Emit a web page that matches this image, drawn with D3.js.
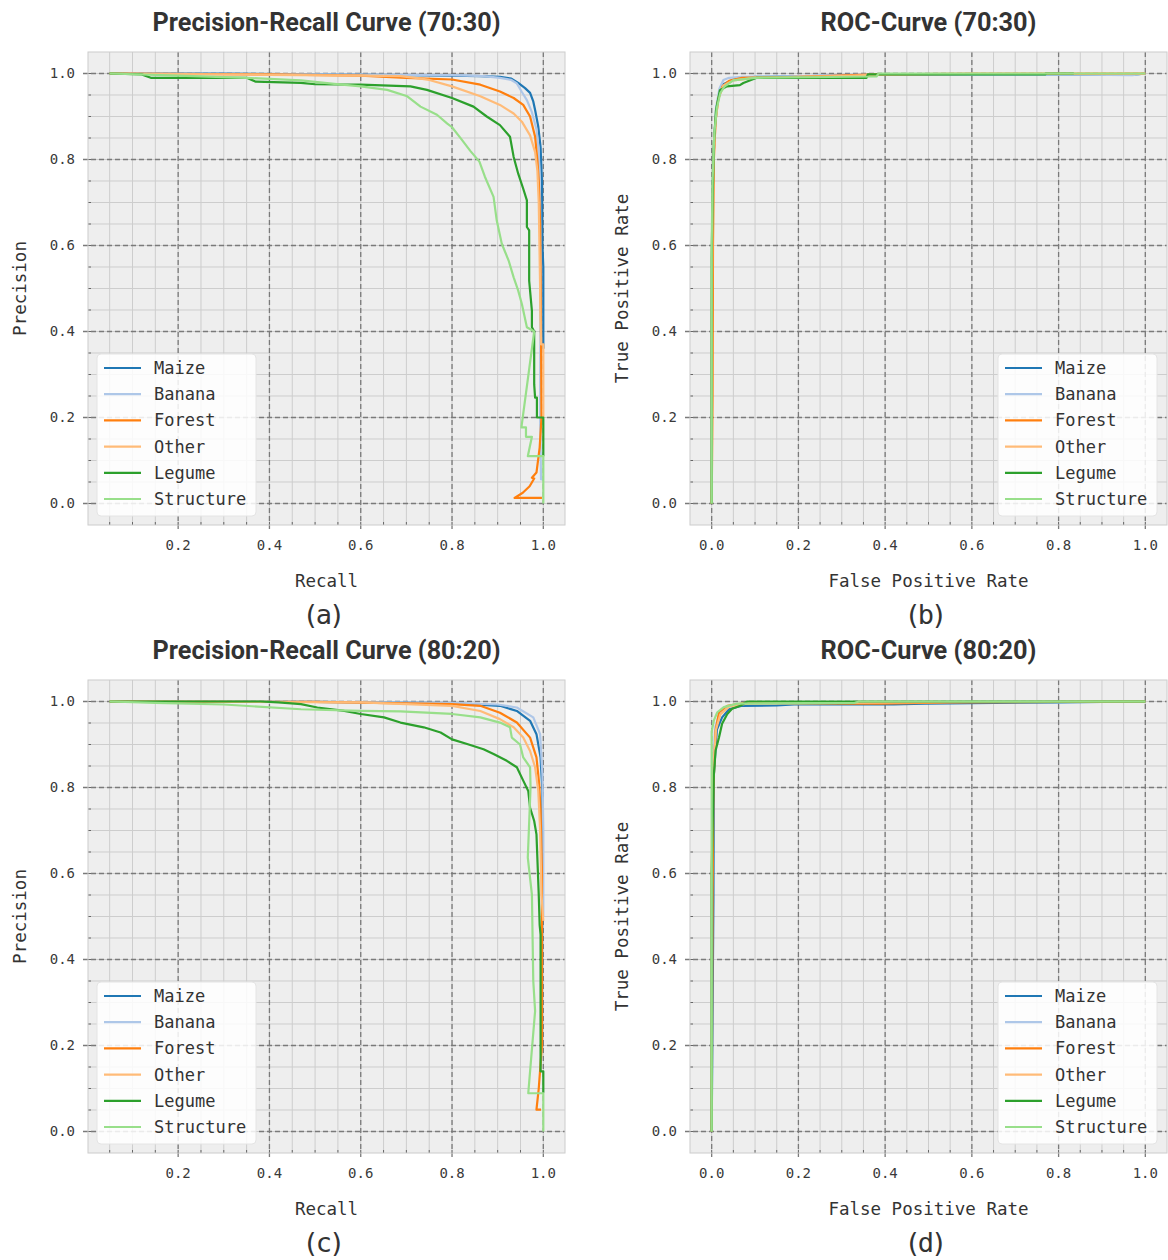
<!DOCTYPE html>
<html>
<head>
<meta charset="utf-8">
<script src="https://cdn.jsdelivr.net/npm/d3@7"></script>
<style>
  body { margin: 0; background: #fff; }
  svg text { fill: #333; }
</style>
</head>
<body>
<svg id="chart" width="1168" height="1260"></svg>
<script>
// class names + tab20 colours
const classes = ["Maize", "Banana", "Forest", "Other", "Legume", "Structure"];
const colors = ["#1f77b4", "#aec7e8", "#ff7f0e", "#ffbb78", "#2ca02c", "#98df8a"];

const majorTicks = [0, 0.2, 0.4, 0.6, 0.8, 1.0];
const tickLabels = ["0.0", "0.2", "0.4", "0.6", "0.8", "1.0"];

// ---- Precision-Recall 70:30  [recall, precision]
const pr7030Maize = [[0.05,1.0],[0.3,1.0],[0.5,0.998],[0.7,0.996],[0.8,0.995],[0.862,0.994],[0.905,0.992],[0.93,0.988],[0.945,0.978],[0.96,0.966],[0.971,0.955],[0.978,0.935],[0.982,0.915],[0.989,0.876],[0.994,0.829],[0.997,0.75],[0.998,0.6],[1.0,0.55],[1.0,0.36]];
const pr7030Banana = [[0.05,1.0],[0.5,0.998],[0.7,0.997],[0.8,0.996],[0.87,0.994],[0.905,0.99],[0.93,0.985],[0.942,0.977],[0.953,0.957],[0.964,0.938],[0.975,0.91],[0.985,0.87],[0.99,0.82],[0.993,0.7],[0.994,0.5],[0.993,0.2],[0.995,0.056],[1.0,0.056]];
const pr7030Forest = [[0.05,1.0],[0.4,0.998],[0.6,0.995],[0.7,0.99],[0.8,0.986],[0.862,0.974],[0.905,0.958],[0.935,0.943],[0.956,0.927],[0.971,0.9],[0.982,0.853],[0.987,0.798],[0.99,0.75],[0.993,0.65],[0.995,0.4],[0.996,0.2],[0.992,0.13],[0.985,0.072],[0.975,0.06],[0.98,0.058],[0.97,0.04],[0.955,0.025],[0.937,0.013],[0.997,0.013]];
const pr7030Other = [[0.05,1.0],[0.4,0.997],[0.6,0.995],[0.687,0.994],[0.72,0.99],[0.75,0.985],[0.8,0.97],[0.862,0.947],[0.905,0.927],[0.935,0.907],[0.953,0.888],[0.971,0.856],[0.982,0.817],[0.987,0.774],[0.99,0.7],[0.993,0.5],[0.995,0.37],[1.0,0.37],[1.0,0.2]];
const pr7030Legume = [[0.05,1.0],[0.12,0.998],[0.14,0.99],[0.35,0.99],[0.37,0.981],[0.469,0.978],[0.5,0.975],[0.6,0.974],[0.709,0.97],[0.745,0.962],[0.8,0.943],[0.847,0.923],[0.876,0.9],[0.905,0.88],[0.927,0.853],[0.935,0.806],[0.945,0.767],[0.956,0.732],[0.964,0.705],[0.964,0.643],[0.969,0.635],[0.969,0.518],[0.975,0.448],[0.975,0.41],[0.98,0.4],[0.98,0.277],[0.982,0.246],[0.986,0.246],[0.986,0.2],[1.0,0.2],[1.0,0.11]];
const pr7030Structure = [[0.05,1.0],[0.2,0.995],[0.35,0.99],[0.469,0.984],[0.542,0.976],[0.6,0.97],[0.658,0.962],[0.702,0.947],[0.731,0.923],[0.767,0.904],[0.789,0.884],[0.8,0.875],[0.82,0.848],[0.84,0.82],[0.86,0.795],[0.872,0.76],[0.891,0.713],[0.898,0.658],[0.909,0.604],[0.924,0.565],[0.935,0.526],[0.945,0.495],[0.953,0.464],[0.964,0.41],[0.98,0.4],[0.952,0.177],[0.962,0.177],[0.962,0.155],[0.975,0.155],[0.966,0.11],[1.0,0.11],[1.0,0.0]];

// ---- Precision-Recall 80:20
const pr8020Maize = [[0.05,1.0],[0.5,0.999],[0.8,0.996],[0.905,0.99],[0.942,0.978],[0.971,0.955],[0.985,0.924],[0.994,0.87],[0.998,0.792],[0.998,0.6],[0.996,0.26]];
const pr8020Banana = [[0.05,1.0],[0.5,0.999],[0.8,0.997],[0.9,0.993],[0.942,0.986],[0.978,0.963],[0.993,0.924],[0.998,0.831],[1.0,0.7],[1.0,0.5]];
const pr8020Forest = [[0.05,1.0],[0.5,0.999],[0.8,0.994],[0.862,0.99],[0.905,0.974],[0.942,0.951],[0.971,0.916],[0.985,0.87],[0.991,0.808],[0.994,0.746],[0.997,0.6],[0.997,0.2],[0.99,0.1],[0.985,0.051],[0.995,0.051]];
const pr8020Other = [[0.05,1.0],[0.6,0.998],[0.8,0.99],[0.862,0.978],[0.905,0.959],[0.935,0.94],[0.956,0.916],[0.971,0.885],[0.982,0.847],[0.989,0.792],[0.993,0.7],[0.996,0.55],[1.0,0.49]];
const pr8020Legume = [[0.05,1.0],[0.38,1.0],[0.42,0.998],[0.469,0.994],[0.505,0.986],[0.564,0.978],[0.6,0.971],[0.651,0.963],[0.687,0.951],[0.738,0.94],[0.775,0.928],[0.8,0.912],[0.833,0.901],[0.869,0.889],[0.891,0.878],[0.92,0.862],[0.942,0.847],[0.956,0.816],[0.967,0.792],[0.971,0.753],[0.98,0.722],[0.985,0.691],[0.99,0.55],[0.992,0.48],[0.994,0.458],[0.994,0.14],[1.0,0.14],[1.0,0.09]];
const pr8020Structure = [[0.05,1.0],[0.15,0.997],[0.3,0.993],[0.469,0.982],[0.6,0.978],[0.687,0.977],[0.8,0.971],[0.862,0.963],[0.905,0.951],[0.927,0.94],[0.931,0.916],[0.949,0.9],[0.956,0.87],[0.971,0.847],[0.972,0.8],[0.966,0.637],[0.975,0.551],[0.978,0.35],[0.982,0.28],[0.967,0.089],[1.0,0.089],[1.0,0.0]];

// ---- ROC 70:30  [fpr, tpr]
const roc7030Maize = [[0,0],[0,0.3],[0.002,0.7],[0.004,0.8],[0.008,0.88],[0.012,0.925],[0.019,0.958],[0.027,0.975],[0.05,0.986],[0.1,0.992],[0.3,0.995],[0.4,0.998],[0.8,0.998],[0.97,0.997],[1.0,1.0]];
const roc7030Banana = [[0,0],[0,0.4],[0.003,0.75],[0.006,0.85],[0.01,0.92],[0.018,0.965],[0.027,0.985],[0.04,0.99],[0.07,0.992],[0.15,0.993],[0.38,0.998],[0.81,0.998],[0.97,0.996],[1.0,1.0]];
const roc7030Forest = [[0,0],[0.002,0.25],[0.003,0.6],[0.005,0.8],[0.009,0.89],[0.015,0.94],[0.025,0.97],[0.04,0.983],[0.07,0.99],[0.2,0.992],[0.38,0.998],[0.6,0.999],[1.0,1.0]];
const roc7030Other = [[0,0],[0,0.4],[0.002,0.7],[0.005,0.82],[0.01,0.9],[0.016,0.945],[0.027,0.972],[0.05,0.984],[0.1,0.99],[0.3,0.994],[0.4,0.998],[0.6,1.0],[1.0,1.0]];
const roc7030Legume = [[0,0],[0,0.57],[0.002,0.7],[0.005,0.837],[0.01,0.915],[0.019,0.961],[0.035,0.97],[0.065,0.973],[0.073,0.978],[0.104,0.99],[0.357,0.99],[0.36,0.998],[0.77,0.998],[0.77,1.0],[0.835,1.0]];
const roc7030Structure = [[0,0],[0,0.6],[0.002,0.75],[0.006,0.86],[0.012,0.92],[0.02,0.955],[0.03,0.97],[0.05,0.984],[0.1,0.99],[0.38,0.993],[0.385,1.0],[1.0,1.0]];

// ---- ROC 80:20
const roc8020Maize = [[0,0],[0.003,0.41],[0.004,0.54],[0.005,0.83],[0.012,0.935],[0.024,0.963],[0.04,0.982],[0.07,0.99],[0.15,0.991],[0.19,0.993],[0.42,0.993],[0.49,0.995],[0.8,0.998],[1.0,1.0]];
const roc8020Banana = [[0,0],[0,0.5],[0.003,0.85],[0.008,0.94],[0.018,0.972],[0.035,0.988],[0.07,0.995],[0.3,0.997],[0.6,0.999],[1.0,1.0]];
const roc8020Forest = [[0,0],[0.002,0.55],[0.004,0.8],[0.009,0.932],[0.017,0.975],[0.036,0.99],[0.08,0.997],[0.33,0.995],[0.39,0.995],[0.55,0.998],[1.0,1.0]];
const roc8020Other = [[0,0],[0,0.6],[0.001,0.72],[0.004,0.85],[0.01,0.935],[0.02,0.97],[0.04,0.988],[0.08,0.995],[0.3,0.997],[0.6,0.999],[1.0,1.0]];
const roc8020Legume = [[0,0],[0,0.6],[0.003,0.75],[0.005,0.83],[0.009,0.886],[0.017,0.917],[0.024,0.948],[0.036,0.971],[0.047,0.983],[0.066,0.99],[0.082,1.0],[0.322,1.0],[1.0,1.0]];
const roc8020Structure = [[0,0],[0,0.93],[0.005,0.956],[0.013,0.975],[0.028,0.987],[0.059,0.995],[0.33,0.997],[0.34,1.0],[1.0,1.0]];

const panels = [
    { x: 88,  y: 52,  kind: "pr",  title: "Precision-Recall Curve (70:30)", tw: 348, tag: "(a)",
      series: [pr7030Maize, pr7030Banana, pr7030Forest, pr7030Other, pr7030Legume, pr7030Structure] },
    { x: 690, y: 52,  kind: "roc", title: "ROC-Curve (70:30)", tw: 216, tag: "(b)",
      series: [roc7030Maize, roc7030Banana, roc7030Forest, roc7030Other, roc7030Legume, roc7030Structure] },
    { x: 88,  y: 680, kind: "pr",  title: "Precision-Recall Curve (80:20)", tw: 348, tag: "(c)",
      series: [pr8020Maize, pr8020Banana, pr8020Forest, pr8020Other, pr8020Legume, pr8020Structure] },
    { x: 690, y: 680, kind: "roc", title: "ROC-Curve (80:20)", tw: 216, tag: "(d)",
      series: [roc8020Maize, roc8020Banana, roc8020Forest, roc8020Other, roc8020Legume, roc8020Structure] }
];

const pw = 477, ph = 473;
const mono = "'DejaVu Sans Mono', monospace";
const svg = d3.select("#chart");
const minor = d3.range(0, 21).map(i => i * 0.05);

panels.forEach((p, pi) => {
    const xDom = p.kind === "pr" ? [0.0025, 1.0475] : [-0.05, 1.05];
    const x = d3.scaleLinear().domain(xDom).range([p.x, p.x + pw]);
    const y = d3.scaleLinear().domain([-0.05, 1.05]).range([p.y + ph, p.y]);
    const inX = v => v >= xDom[0] && v <= xDom[1];
    const g = svg.append("g");

    // background
    g.append("rect").attr("x", p.x).attr("y", p.y).attr("width", pw).attr("height", ph)
        .attr("fill", "#eeeeee");

    // minor grid
    g.selectAll(".mgx").data(minor.filter(inX)).enter().append("line")
        .attr("x1", d => x(d)).attr("x2", d => x(d)).attr("y1", p.y).attr("y2", p.y + ph)
        .attr("stroke", "#cdcdcd").attr("stroke-width", 1);
    g.selectAll(".mgy").data(minor).enter().append("line")
        .attr("y1", d => y(d)).attr("y2", d => y(d)).attr("x1", p.x).attr("x2", p.x + pw)
        .attr("stroke", "#cdcdcd").attr("stroke-width", 1);

    // major grid, dashed
    g.selectAll(".gx").data(majorTicks.filter(inX)).enter().append("line")
        .attr("x1", d => x(d)).attr("x2", d => x(d)).attr("y1", p.y).attr("y2", p.y + ph + 5)
        .attr("stroke", "#7a7a7a").attr("stroke-width", 1.3).attr("stroke-dasharray", "5,3");
    g.selectAll(".gy").data(majorTicks).enter().append("line")
        .attr("y1", d => y(d)).attr("y2", d => y(d)).attr("x1", p.x - 5).attr("x2", p.x + pw)
        .attr("stroke", "#7a7a7a").attr("stroke-width", 1.3).attr("stroke-dasharray", "5,3");

    // minor tick marks
    g.selectAll(".mtx").data(minor.filter(inX)).enter().append("line")
        .attr("x1", d => x(d)).attr("x2", d => x(d)).attr("y1", p.y + ph - 3).attr("y2", p.y + ph)
        .attr("stroke", "#666");
    g.selectAll(".mty").data(minor).enter().append("line")
        .attr("y1", d => y(d)).attr("y2", d => y(d)).attr("x1", p.x).attr("x2", p.x + 3)
        .attr("stroke", "#666");

    g.append("rect").attr("x", p.x).attr("y", p.y).attr("width", pw).attr("height", ph)
        .attr("fill", "none").attr("stroke", "#cccccc");

    // tick labels
    majorTicks.forEach((t, i) => {
        if (inX(t)) {
            g.append("text").attr("x", x(t)).attr("y", p.y + ph + 25)
                .attr("text-anchor", "middle").style("font", `14px ${mono}`).style("fill", "#3a3a3a")
                .text(tickLabels[i]);
        }
        g.append("text").attr("x", p.x - 13).attr("y", y(t)).attr("dy", "0.35em")
            .attr("text-anchor", "end").style("font", `14px ${mono}`).style("fill", "#3a3a3a")
            .text(tickLabels[i]);
    });

    // curves
    const clipId = "clip" + pi;
    svg.append("clipPath").attr("id", clipId).append("rect")
        .attr("x", p.x).attr("y", p.y).attr("width", pw).attr("height", ph);
    const line = d3.line().x(d => x(d[0])).y(d => y(d[1]));
    g.append("g").attr("clip-path", `url(#${clipId})`)
        .selectAll("path").data(p.series).enter().append("path")
        .attr("d", line).attr("fill", "none")
        .attr("stroke", (d, i) => colors[i]).attr("stroke-width", 2.2)
        .attr("stroke-linejoin", "round");

    // legend
    const lw = 159, lh = 162;
    const lx = p.kind === "pr" ? p.x + 9 : p.x + pw - 10 - lw;
    const ly = p.y + ph - 9 - lh;
    const leg = g.append("g");
    leg.append("rect").attr("x", lx).attr("y", ly).attr("width", lw).attr("height", lh)
        .attr("rx", 4).attr("fill", "#fff").attr("fill-opacity", 0.85).attr("stroke", "#e4e4e4");
    classes.forEach((c, i) => {
        const cy = ly + 14 + i * 26.2;
        leg.append("line").attr("x1", lx + 7).attr("x2", lx + 44).attr("y1", cy).attr("y2", cy)
            .attr("stroke", colors[i]).attr("stroke-width", 2.2);
        leg.append("text").attr("x", lx + 57).attr("y", cy).attr("dy", "0.35em")
            .style("font", `17px ${mono}`).text(c);
    });

    // titles + axis labels
    const cx = p.x + pw / 2;
    g.append("text").attr("x", cx).attr("y", p.y - 21).attr("text-anchor", "middle")
        .attr("textLength", p.tw).attr("lengthAdjust", "spacingAndGlyphs")
        .style("font", "bold 25px Roboto, 'Liberation Sans', sans-serif").text(p.title);
    g.append("text").attr("x", cx).attr("y", p.y + ph + 62).attr("text-anchor", "middle")
        .style("font", `17.5px ${mono}`)
        .text(p.kind === "pr" ? "Recall" : "False Positive Rate");
    g.append("text").attr("transform", `translate(${p.x - 62},${p.y + ph / 2}) rotate(-90)`)
        .attr("text-anchor", "middle").style("font", `17.5px ${mono}`)
        .text(p.kind === "pr" ? "Precision" : "True Positive Rate");
    g.append("text").attr("x", cx - 4).attr("y", p.y + ph + 99).attr("text-anchor", "middle")
        .style("font", `500 27px ${mono}`).style("letter-spacing", "-3px").text(p.tag);
});
</script>
</body>
</html>
